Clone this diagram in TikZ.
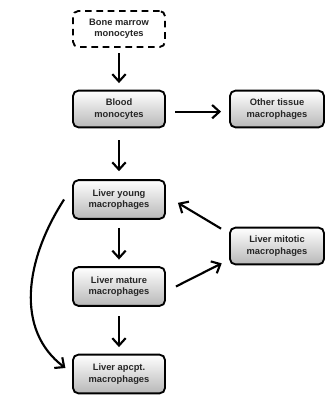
\documentclass[tikz,border=0pt]{standalone}
\usepackage{fontspec}
\setmainfont{Liberation Sans}
\usetikzlibrary{arrows.meta}
\begin{document}
\begin{tikzpicture}[x=0.75pt,y=-0.75pt,
  cell/.style={draw=black,line width=1.4pt,rounded corners=4pt,top color=white,bottom color=black!28,
    minimum width=69pt,minimum height=27.5pt,inner sep=1pt,align=center,font=\fontsize{7}{8.5}\selectfont\bfseries,text=black!85},
  dcell/.style={draw=black,line width=1.4pt,dash pattern=on 5pt off 3.5pt,rounded corners=4pt,fill=white,
    minimum width=69pt,minimum height=27pt,inner sep=1pt,align=center,font=\fontsize{7}{8.5}\selectfont\bfseries,text=black!85},
  flow/.style={line width=1.6pt,-{Straight Barb[length=5.5pt,width=10pt,line width=1.6pt]}}]
\useasboundingbox (0,0) rectangle (333,395);
\node[dcell] (bm) at (119,29) {Bone marrow\\monocytes};
\node[cell] (bl) at (119,109) {Blood\\monocytes};
\node[cell,minimum width=70.5pt] (ot) at (277,109) {Other tissue\\macrophages};
\node[cell,minimum height=29pt] (ly) at (119,199.5) {Liver young\\macrophages};
\node[cell,minimum width=70.5pt] (lmi) at (277,246) {Liver mitotic\\macrophages};
\node[cell,minimum height=29pt] (lma) at (119,286.5) {Liver mature\\macrophages};
\node[cell,minimum height=29pt] (la) at (119,374) {Liver apcpt.\\macrophages};
\draw[flow] ([yshift=-4pt]bm.south) -- ([yshift=5pt]bl.north);
\draw[flow] ([xshift=7pt,yshift=-2pt]bl.east) -- ([xshift=-6pt,yshift=-2pt]ot.west);
\draw[flow] ([yshift=-9pt]bl.south) -- ([yshift=6pt]ly.north);
\draw[flow] ([yshift=-6pt]ly.south) -- ([yshift=5pt]lma.north);
\draw[flow] ([yshift=-7pt]lma.south) -- ([yshift=5pt]la.north);
\draw[flow] ([xshift=7.5pt,yshift=0pt]lma.east) -- ([xshift=-5.5pt,yshift=-13pt]lmi.west);
\draw[flow] ([xshift=-6pt,yshift=13pt]lmi.west) -- ([xshift=9pt,yshift=-2.5pt]ly.east);
\draw[flow] ([xshift=-6pt,yshift=0pt]ly.west) .. controls (25,260) and (15,330) .. ([xshift=-5pt,yshift=4.5pt]la.west);
\end{tikzpicture}
\end{document}
